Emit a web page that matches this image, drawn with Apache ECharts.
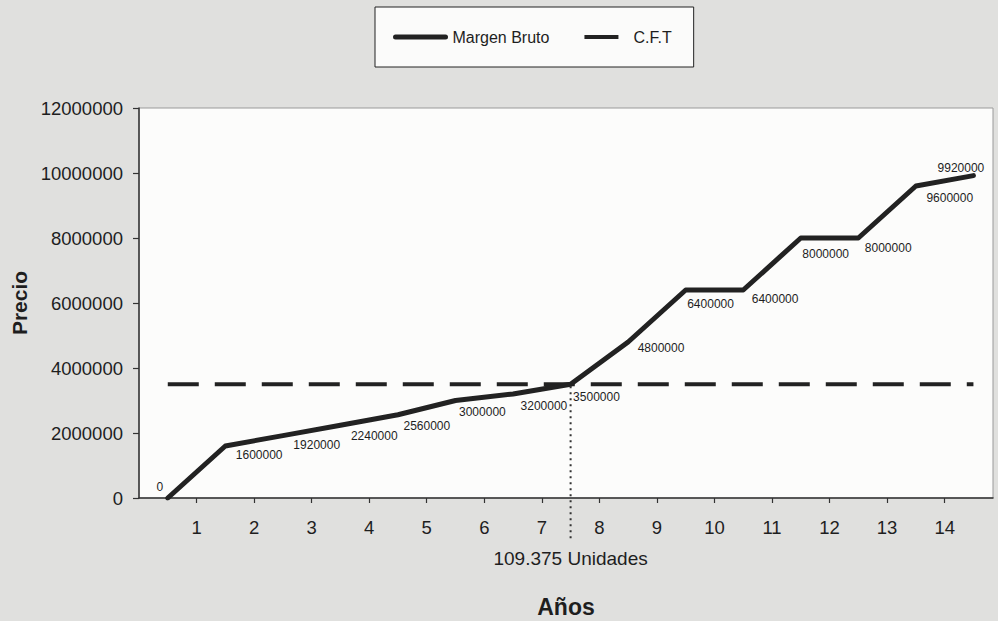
<!DOCTYPE html>
<html>
<head>
<meta charset="utf-8">
<script src="https://cdn.jsdelivr.net/npm/echarts@6/dist/echarts.min.js"></script>
<style>
  html, body { margin: 0; padding: 0; background: #e0e0de; }
  #chart { width: 998px; height: 621px; }
</style>
</head>
<body>
<div id="chart"></div>
<script>
// Year tick labels on the horizontal axis
const yearTicks = [1, 2, 3, 4, 5, 6, 7, 8, 9, 10, 11, 12, 13, 14];
// Points sit on the boundaries between years
const pointYears = [0.5, 1.5, 2.5, 3.5, 4.5, 5.5, 6.5, 7.5, 8.5, 9.5, 10.5, 11.5, 12.5, 13.5, 14.5];
// Gross margin (Margen Bruto)
const margenBruto = [0, 1600000, 1920000, 2240000, 2560000, 3000000, 3200000, 3500000,
                     4800000, 6400000, 6400000, 8000000, 8000000, 9600000, 9920000];
// Total fixed cost (C.F.T)
const cft = [3500000, 3500000, 3500000, 3500000, 3500000, 3500000, 3500000, 3500000,
             3500000, 3500000, 3500000, 3500000, 3500000, 3500000, 3500000];
// Break-even point
const equilibrioYear = 7.5;
const equilibrioValor = 3500000;
const equilibrioTexto = '109.375 Unidades';

// Value label placement (offset from the point, label anchored on its left-middle)
const labelOffsets = [
  [-4, -11, 'right'], [11, 9], [11, 10], [11, 11], [6, 12], [4, 12], [8, 12], [3, 13],
  [10, 6], [2, 14], [9, 9], [2, 16], [7, 10], [11, 12], [-12, -7, 'center']
];

const FONT = 'Arial, "Liberation Sans", sans-serif';
const INK = '#1e1e1e';

const chart = echarts.init(document.getElementById('chart'), null, { renderer: 'svg' });

const margenData = pointYears.map((x, i) => {
  const o = labelOffsets[i];
  return {
    value: [x, margenBruto[i]],
    label: { position: [o[0], o[1]], align: o[2] || 'left', verticalAlign: 'middle', color: INK }
  };
});

const option = {
  backgroundColor: '#e0e0de',
  animation: false,
  legend: {
    left: 375, top: 7,
    padding: [22, 22, 22, 18],
    itemWidth: 50, itemHeight: 5, itemGap: 25,
    backgroundColor: '#fbfbfa',
    borderColor: '#222', borderWidth: 1, borderRadius: 0,
    textStyle: { fontFamily: FONT, fontSize: 16, color: INK, padding: [0, 0, 0, 2] },
    data: [
      { name: 'Margen Bruto',
        lineStyle: { color: '#222', width: 5, type: 'solid' } },
      { name: 'C.F.T',
        lineStyle: { color: '#222', width: 4, type: [34, 16], dashOffset: 42 } }
    ]
  },
  grid: {
    left: 139, right: 5, top: 108, bottom: 123,
    outerBoundsMode: 'none',
    show: true, backgroundColor: '#fcfcfb', borderColor: '#9a9a9a', borderWidth: 1
  },
  xAxis: {
    type: 'value', min: 0, max: 14.84,
    name: 'Años', nameLocation: 'middle', nameGap: 97,
    nameTextStyle: { fontFamily: FONT, fontSize: 23, fontWeight: 'bold', color: INK },
    splitLine: { show: false },
    axisLine: { lineStyle: { color: '#333', width: 1.5 } },
    axisTick: { show: true, inside: false, length: 5, customValues: yearTicks,
                lineStyle: { color: '#333', width: 1.2 } },
    axisLabel: { customValues: yearTicks, margin: 20, fontFamily: FONT, fontSize: 18.5, color: INK }
  },
  yAxis: {
    type: 'value', min: 0, max: 12000000, interval: 2000000,
    name: 'Precio', nameLocation: 'middle', nameGap: 106, nameRotate: 90,
    nameTextStyle: { fontFamily: FONT, fontSize: 21, fontWeight: 'bold', color: INK },
    splitLine: { show: false },
    axisLine: { show: true, lineStyle: { color: '#333', width: 1.5 } },
    axisTick: { show: true, length: 6, lineStyle: { color: '#333', width: 1.2 } },
    axisLabel: { margin: 16, fontFamily: FONT, fontSize: 18.5, color: INK,
                 formatter: v => String(v) }
  },
  series: [
    {
      name: 'C.F.T', type: 'line',
      data: pointYears.map((x, i) => [x, cft[i]]),
      symbol: 'none',
      lineStyle: { color: '#222', width: 4, type: [31, 16], cap: 'butt' },
      itemStyle: { color: '#222' },
      z: 2
    },
    {
      name: 'Margen Bruto', type: 'line',
      data: margenData,
      symbol: 'circle', symbolSize: 1,
      itemStyle: { color: 'rgba(0,0,0,0)' },
      lineStyle: { color: '#222', width: 5, join: 'round', cap: 'round' },
      label: { show: true, fontFamily: FONT, fontSize: 12, color: INK,
               formatter: p => String(p.value[1]) },
      z: 3
    }
  ]
};

chart.setOption(option);

// Dotted drop line from the break-even point through the axis, with its caption
const bePoint = chart.convertToPixel({ gridIndex: 0 }, [equilibrioYear, equilibrioValor]);
const beBase = chart.convertToPixel({ gridIndex: 0 }, [equilibrioYear, 0]);
chart.setOption({
  graphic: [
    {
      type: 'line', z: 10,
      shape: { x1: bePoint[0], y1: bePoint[1] + 2, x2: bePoint[0], y2: beBase[1] + 42 },
      style: { stroke: '#333', lineWidth: 2, lineDash: [2, 4] }
    },
    {
      type: 'text', z: 10,
      x: beBase[0], y: beBase[1] + 60,
      style: { text: equilibrioTexto, fontFamily: FONT, fontSize: 19, fill: INK,
               align: 'center', verticalAlign: 'middle' }
    }
  ]
});
</script>
</body>
</html>
